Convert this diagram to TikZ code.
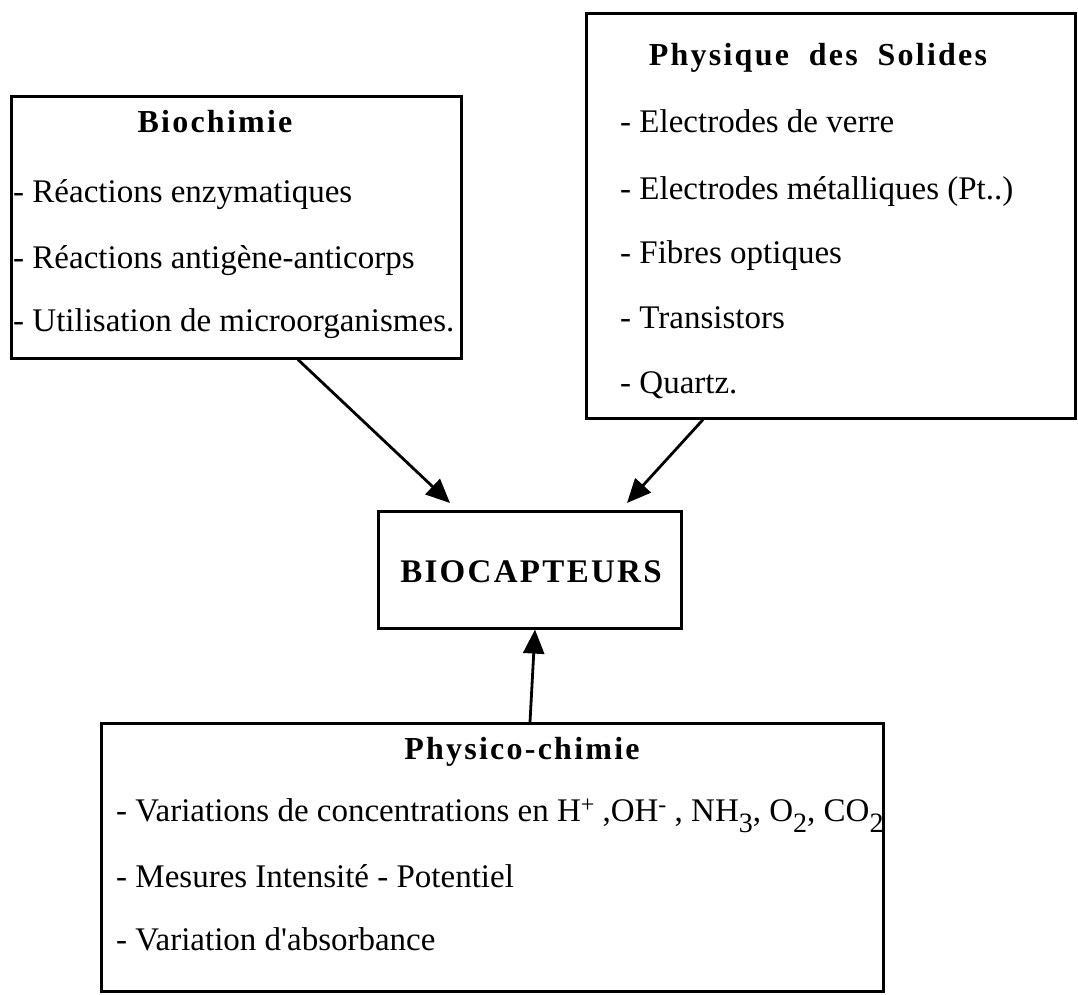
\documentclass[tikz,border=0pt]{standalone}
\usepackage{fontspec}
\setmainfont{Liberation Serif}
\newfontfamily\titlefont[LetterSpace=7.0]{Liberation Serif}
\usetikzlibrary{arrows.meta,calc}
\tikzset{
  box/.style={draw=black, line width=2.6pt, inner sep=0pt, anchor=north west, fill=none},
  item/.style={anchor=base west, inner sep=0pt, font=\fontsize{33}{38}\selectfont},
  ttl/.style={anchor=base, inner sep=0pt, font=\fontsize{32}{38}\selectfont\titlefont\bfseries},
  arr/.style={line width=2.8pt, -{Triangle[length=24pt,width=21pt]}}
}
\newcommand{\supx}[1]{\raisebox{9pt}{\fontsize{24}{24}\selectfont #1}}
\newcommand{\subx}[1]{\raisebox{-11pt}{\fontsize{28}{28}\selectfont #1}}
\begin{document}
\begin{tikzpicture}[x=1pt,y=-1pt]
\useasboundingbox (0,0) rectangle (1078,995);
% boxes
\node[box, minimum width=450pt, minimum height=262pt] (bio) at (10,95) {};
\node[box, minimum width=489pt, minimum height=405pt] (phys) at (585,12) {};
\node[box, minimum width=303pt, minimum height=117pt] (bioc) at (377,510) {};
\node[box, minimum width=782pt, minimum height=268pt] (pc) at (100,722) {};
% Biochimie
\node[ttl] (bioT) at (215,133) {Biochimie};
\node[item] (bio1) at (13,203) {- Réactions enzymatiques};
\node[item] (bio2) at (13,268) {- Réactions antigène-anticorps};
\node[item] (bio3) at (13,331) {- Utilisation de microorganismes.};
% Physique des Solides
\node[ttl] (physT) at (818,66) {Physique\hspace{0.3em} des\hspace{0.3em} Solides};
\node[item] (ph1) at (620,133) {- Electrodes de verre};
\node[item] (ph2) at (620,200) {- Electrodes métalliques (Pt..)};
\node[item] (ph3) at (620,263) {- Fibres optiques};
\node[item] (ph4) at (620,328) {- Transistors};
\node[item] (ph5) at (620,393) {- Quartz.};
% Biocapteurs
\node[anchor=base, inner sep=0pt, font=\fontsize{33}{38}\selectfont\titlefont\bfseries] (biocT) at (531,582) {BIOCAPTEURS};
% Physico-chimie
\node[ttl] (pcT) at (522,759) {Physico-chimie};
\node[item] (pc1) at (116,821) {- Variations de concentrations en H\supx{+} ,OH\supx{-} , NH\subx{3}, O\subx{2}, CO\subx{2}};
\node[item] (pc2) at (116,887) {- Mesures Intensité - Potentiel};
\node[item] (pc3) at (116,950) {- Variation d\textquotesingle absorbance};
% arrows
\draw[arr] ($(bio.south west)+(288,0)$) -- ($(bioc.north west)+(73,-7)$);
\draw[arr] ($(phys.south west)+(118,0)$) -- ($(bioc.north west)+(250,-7)$);
\draw[arr] ($(pc.north west)+(430,0)$) -- ($(bioc.south west)+(158,0)$);
\end{tikzpicture}
\end{document}
